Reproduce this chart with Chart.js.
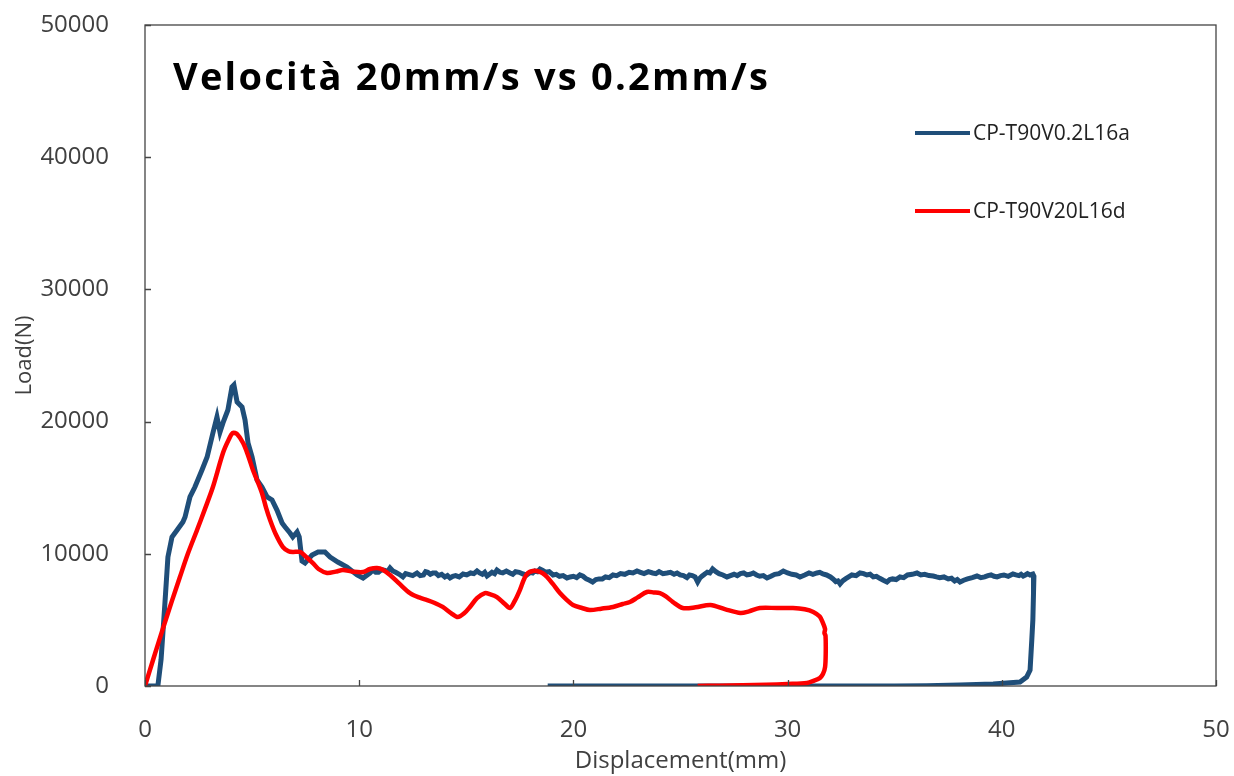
<!DOCTYPE html>
<html>
<head>
<meta charset="utf-8">
<script src="https://cdn.jsdelivr.net/npm/chart.js@4"></script>
<style>
  html, body { margin: 0; padding: 0; background: #fff; }
  #wrap { width: 1234px; height: 776px; }
</style>
</head>
<body>
<div id="wrap"><canvas id="loadChart"></canvas></div>
<script>
// ------ dati prova ------
const TITLE = 'Velocità 20mm/s vs 0.2mm/s';
const X_TICKS = [0, 10, 20, 30, 40, 50];
const Y_TICKS = [0, 10000, 20000, 30000, 40000, 50000];

const seriesNames = ['CP-T90V0.2L16a', 'CP-T90V20L16d'];

// CP-T90V0.2L16a (0.2 mm/s) - spostamento [mm]
const blueX = [
  0.05, 0.6, 0.75, 0.93, 1.07, 1.26, 1.5, 1.77, 1.87, 2.1,
  2.33, 2.66, 2.9, 3.17, 3.36, 3.5, 3.64, 3.87, 4.06, 4.15,
  4.3, 4.53, 4.67, 4.81, 5.0, 5.23, 5.46, 5.7, 5.93, 6.16,
  6.4, 6.54, 6.77, 6.9, 7.1, 7.2, 7.33, 7.47, 7.8, 8.08,
  8.4, 8.64, 9.0, 9.43, 9.9, 10.18, 10.5,
  10.64, 10.77, 10.9, 11.05, 11.2, 11.32, 11.44, 11.57, 11.7, 11.87,
  12.04, 12.17, 12.3, 12.5, 12.7, 12.85, 13.0, 13.1, 13.2, 13.32,
  13.44, 13.57, 13.7, 13.85, 14.0, 14.12, 14.24, 14.37, 14.5, 14.67,
  14.85, 15.02, 15.2, 15.35, 15.5, 15.62, 15.75, 15.86, 15.97, 16.08,
  16.2, 16.32, 16.43, 16.57, 16.7, 16.87, 17.04, 17.17, 17.3, 17.47,
  17.65, 17.82, 18.0, 18.1, 18.2, 18.32, 18.44, 18.57, 18.7, 18.87,
  19.05, 19.2, 19.35, 19.52, 19.7, 19.85, 20.0, 20.15, 20.3, 20.45,
  20.6, 20.75, 20.9, 21.05, 21.2, 21.35, 21.5, 21.67, 21.85, 22.02,
  22.2, 22.4, 22.6, 22.78, 22.97, 23.13, 23.3, 23.5, 23.7, 23.85,
  24.0, 24.18, 24.37, 24.53, 24.7, 24.84, 24.98, 25.14, 25.3, 25.42,
  25.55, 25.68, 25.8, 25.9, 26.0, 26.12, 26.25, 26.37, 26.5, 26.65,
  26.8, 26.98, 27.17, 27.33, 27.5, 27.65, 27.8, 27.95, 28.1, 28.25,
  28.4, 28.55, 28.7, 28.87, 29.04, 29.22, 29.4, 29.6, 29.8, 30.0,
  30.2, 30.4, 30.58, 30.8, 31.0, 31.18, 31.37, 31.5, 31.65, 31.82,
  32.0, 32.12, 32.25, 32.35, 32.45, 32.57, 32.7, 32.85, 33.0, 33.2,
  33.38, 33.55, 33.7, 33.85, 34.0, 34.15, 34.3, 34.47, 34.64, 34.77,
  34.9, 35.07, 35.25, 35.42, 35.6, 35.82, 36.04, 36.22, 36.4, 36.6,
  36.8, 36.95, 37.1, 37.3, 37.5, 37.65, 37.8, 37.92, 38.05, 38.22,
  38.4, 38.62, 38.84, 39.02, 39.2, 39.35, 39.5, 39.64, 39.78, 39.94,
  40.1, 40.3, 40.52, 40.66, 40.8, 40.9, 41.0, 41.1, 41.2, 41.32,
  41.45, 41.5, 41.48, 41.45, 41.4, 41.32, 41.16, 40.85, 40.23, 39.6,
  38.05, 36.5, 35.0, 18.8
];
// carico [N]
const blueY = [
  0, 0, 2000, 6270, 9760, 11270, 11800, 12400, 12780, 14300,
  15050, 16340, 17320, 19140, 20350, 19200, 19900, 20880, 22620, 22770,
  21480, 21100, 20120, 18380, 17320, 15580, 15050, 14300, 14070, 13310,
  12330, 12030, 11570, 11270, 11650, 11270, 9450, 9300, 9910, 10140,
  10140, 9760, 9380, 9000, 8400, 8170, 8550,
  8770, 8600, 8600, 8800, 8750, 8650, 8930, 8700, 8600, 8450,
  8250, 8500, 8450, 8350, 8550, 8350, 8400, 8650, 8600, 8450,
  8550, 8550, 8350, 8450, 8250, 8350, 8170, 8300, 8350, 8250,
  8470, 8400, 8550, 8500, 8700, 8550, 8450, 8600, 8320, 8450,
  8600, 8500, 8770, 8600, 8550, 8700, 8550, 8450, 8650, 8600,
  8470, 8400, 8600, 8550, 8700, 8650, 8850, 8750, 8600, 8650,
  8400, 8450, 8300, 8350, 8170, 8250, 8300, 8200, 8400, 8300,
  8100, 8000, 7870, 8050, 8100, 8100, 8250, 8200, 8400, 8350,
  8500, 8450, 8600, 8550, 8700, 8600, 8500, 8650, 8550, 8500,
  8650, 8500, 8550, 8600, 8450, 8550, 8400, 8350, 8200, 8400,
  8350, 8250, 7870, 8150, 8300, 8450, 8600, 8550, 8850, 8650,
  8500, 8400, 8250, 8350, 8450, 8350, 8500, 8550, 8400, 8450,
  8550, 8400, 8300, 8350, 8170, 8300, 8450, 8500, 8700, 8550,
  8450, 8400, 8250, 8400, 8550, 8450, 8550, 8600, 8470, 8400,
  8250, 8100, 7900, 7950, 7720, 7950, 8100, 8250, 8400, 8350,
  8550, 8500, 8400, 8450, 8250, 8300, 8150, 8000, 7870, 8050,
  8100, 8050, 8250, 8200, 8400, 8450, 8550, 8400, 8450, 8350,
  8320, 8250, 8200, 8250, 8100, 8150, 7950, 8050, 7870, 8000,
  8100, 8200, 8320, 8200, 8250, 8350, 8400, 8300, 8250, 8350,
  8400, 8300, 8470, 8400, 8350, 8450, 8320, 8400, 8500, 8400,
  8470, 8300, 7000, 5000, 3480, 1210, 680, 300, 230, 150,
  75, 20, 0, 0
];

// CP-T90V20L16d (20 mm/s)
const redX = [
  0, 0.4, 0.86, 1.25, 1.63, 2.0, 2.43, 2.8, 3.17, 3.64, 3.9, 4.1, 4.3, 4.58, 4.8, 5.04, 5.25, 5.46, 5.65,
  5.84, 6.1, 6.44, 6.7, 6.9, 7.24, 7.5, 7.84, 8.1, 8.5, 8.9, 9.24, 9.7, 10.18, 10.5, 10.83, 11.1, 11.44,
  11.9, 12.37, 12.8, 13.17, 13.5, 13.9, 14.3, 14.6, 14.9, 15.17, 15.5, 15.87, 16.1, 16.43, 16.8, 17.04,
  17.25, 17.5, 17.7, 17.88, 18.1, 18.3, 18.55, 18.77, 19.05, 19.37, 19.7, 19.98, 20.4, 20.77, 21.3, 21.85,
  22.3, 22.64, 23.0, 23.43, 23.75, 24.04, 24.3, 24.65, 25.1, 25.7, 26.4, 27.1, 27.8, 28.2, 28.7, 29.5,
  30.25, 30.8, 31.2, 31.5, 31.65, 31.75, 31.72, 31.77, 31.78, 31.75, 31.65, 31.5, 31.2, 30.9, 30.0, 29.0,
  27.9, 26.8, 25.8
];
const redY = [
  0, 2100, 4460, 6400, 8240, 10000, 11800, 13400, 15050, 17620, 18600, 19140, 19050, 18380, 17500, 16340, 15500, 14600, 13500,
  12560, 11500, 10510, 10200, 10140, 10140, 9800, 9300, 8850, 8550, 8650, 8770, 8650, 8620, 8850, 8930, 8800, 8400,
  7700, 7030, 6700, 6500, 6300, 5980, 5500, 5220, 5500, 5980, 6650, 7030, 6950, 6730, 6200, 5900,
  6400, 7260, 8100, 8550, 8700, 8700, 8550, 8250, 7700, 7030, 6500, 6130, 5900, 5750, 5850, 5980,
  6200, 6350, 6700, 7110, 7080, 7030, 6800, 6350, 5900, 5950, 6130, 5800, 5520, 5650, 5900, 5900,
  5900, 5800, 5600, 5250, 4770, 4300, 4010, 3800, 2500, 1440, 900, 600, 380, 230, 150, 90,
  50, 20, 0
];

const COLORS = { blue: '#1f4e79', red: '#ff0000', text: '#404040', frame: '#444444' };
const FONT = '"Open Sans", "DejaVu Sans", sans-serif';

const toPoints = (xs, ys) => xs.map((x, i) => ({ x, y: ys[i] }));

// ------ cornice, tacche interne, titolo e legenda ------
const decorPlugin = {
  id: 'decor',
  afterDraw(chart) {
    const { ctx, chartArea: a, scales } = chart;
    ctx.save();

    // cornice area grafico
    ctx.strokeStyle = COLORS.frame;
    ctx.lineWidth = 1.3;
    ctx.strokeRect(a.left, a.top, a.right - a.left, a.bottom - a.top);

    // tacche verso l'interno
    ctx.beginPath();
    X_TICKS.forEach(v => {
      const px = Math.round(scales.x.getPixelForValue(v)) + 0.5;
      ctx.moveTo(px, a.bottom);
      ctx.lineTo(px, a.bottom - 6);
    });
    Y_TICKS.forEach(v => {
      const py = Math.round(scales.y.getPixelForValue(v)) + 0.5;
      ctx.moveTo(a.left, py);
      ctx.lineTo(a.left + 6, py);
    });
    ctx.stroke();

    // titolo
    ctx.fillStyle = '#000';
    ctx.font = 'bold 38px ' + FONT;
    ctx.textBaseline = 'alphabetic';
    ctx.textAlign = 'left';
    const w = ctx.measureText(TITLE).width;
    const spacing = (595 - w) / (TITLE.length - 1);
    ctx.letterSpacing = spacing.toFixed(2) + 'px';
    ctx.fillText(TITLE, 173, 90);
    ctx.letterSpacing = '0px';

    // legenda
    const items = [
      { label: seriesNames[0], color: COLORS.blue, y: 133 },
      { label: seriesNames[1], color: COLORS.red, y: 211 }
    ];
    ctx.font = '21px ' + FONT;
    ctx.textBaseline = 'middle';
    items.forEach(it => {
      ctx.strokeStyle = it.color;
      ctx.lineWidth = 4;
      ctx.beginPath();
      ctx.moveTo(915, it.y);
      ctx.lineTo(970, it.y);
      ctx.stroke();
      ctx.fillStyle = '#222';
      ctx.fillText(it.label, 973, it.y + 1);
    });

    ctx.restore();
  }
};

// niente margini automatici per le etichette: l'area grafico resta fissa
const noEdgePadding = s => {
  s.paddingTop = 0; s.paddingBottom = 0; s.paddingLeft = 0; s.paddingRight = 0;
};

new Chart(document.getElementById('loadChart'), {
  type: 'scatter',
  data: {
    datasets: [
      {
        label: seriesNames[0],
        data: toPoints(blueX, blueY),
        showLine: true,
        borderColor: COLORS.blue,
        borderWidth: 5,
        pointRadius: 0,
        tension: 0,
        order: 2
      },
      {
        label: seriesNames[1],
        data: toPoints(redX, redY),
        showLine: true,
        borderColor: COLORS.red,
        borderWidth: 4.5,
        pointRadius: 0,
        tension: 0.3,
        order: 1
      }
    ]
  },
  options: {
    responsive: true,
    maintainAspectRatio: false,
    animation: false,
    layout: { padding: { top: 25, right: 18, left: 0, bottom: 0 } },
    plugins: {
      legend: { display: false },
      tooltip: { enabled: false }
    },
    scales: {
      x: {
        type: 'linear',
        min: 0, max: 50,
        afterFit: s => { s.height = 90; noEdgePadding(s); },
        afterBuildTicks: s => { s.ticks = X_TICKS.map(v => ({ value: v })); },
        grid: { display: false },
        border: { display: false },
        ticks: { color: COLORS.text, font: { family: FONT, size: 24 }, padding: 22, maxRotation: 0 },
        title: {
          display: true, text: 'Displacement(mm)', color: COLORS.text,
          font: { family: FONT, size: 24 }, padding: { top: 0, bottom: 0 }
        }
      },
      y: {
        type: 'linear',
        min: 0, max: 50000,
        afterFit: s => { s.width = 145; noEdgePadding(s); },
        afterBuildTicks: s => { s.ticks = Y_TICKS.map(v => ({ value: v })); },
        grid: { display: false },
        border: { display: false },
        ticks: {
          color: COLORS.text, font: { family: FONT, size: 24 }, padding: 28,
          callback: v => String(v)
        },
        title: {
          display: true, text: 'Load(N)', color: COLORS.text,
          font: { family: FONT, size: 22 }, padding: { top: 12, bottom: 0 }
        }
      }
    }
  },
  plugins: [decorPlugin]
});
</script>
</body>
</html>
